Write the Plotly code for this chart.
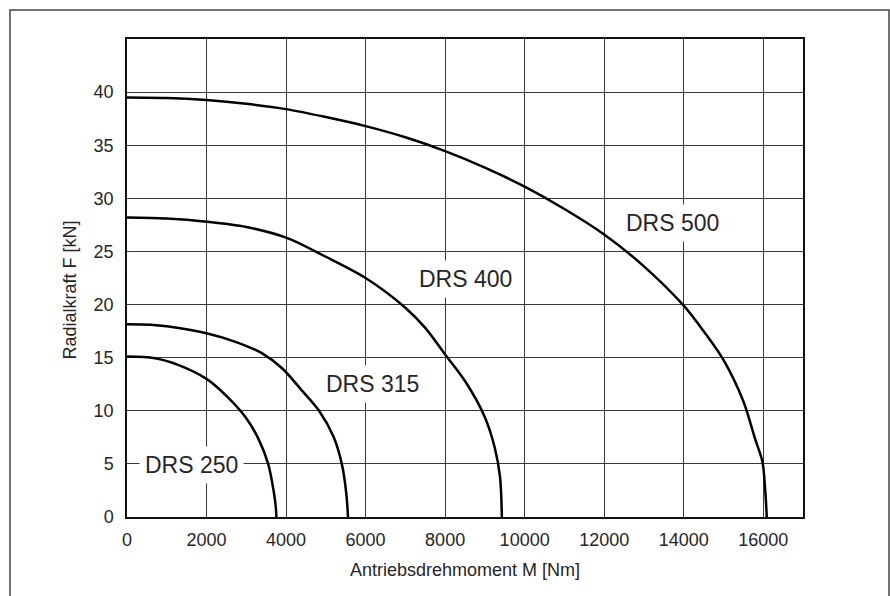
"""Radialkraft vs. Antriebsdrehmoment, DRS 250 ... DRS 500."""
import plotly.graph_objects as go

# Curves: torque M [Nm] / radial force F [kN]
DRS250_M = [0, 700, 1300, 2000, 2500, 3000, 3300, 3550, 3690, 3745, 3756]
DRS250_F = [15.1, 14.95, 14.3, 13.0, 11.4, 9.3, 7.4, 5.0, 2.4, 0.8, 0]

DRS315_M = [0, 600, 1000, 2000, 2800, 3400, 3900, 4400, 4830, 5200, 5410, 5515, 5558]
DRS315_F = [18.15, 18.1, 17.95, 17.3, 16.4, 15.4, 14.0, 11.9, 10.0, 7.5, 4.86, 2.2, 0]

DRS400_M = [0, 1000, 2000, 3000, 4000, 5000, 6000, 7000, 7500, 8000, 8500, 9000,
            9250, 9380, 9427]
DRS400_F = [28.2, 28.1, 27.8, 27.3, 26.3, 24.5, 22.5, 19.7, 17.8, 15.3, 12.8, 9.4,
            6.5, 3.8, 0]

DRS500_M = [0, 1000, 2000, 3000, 4000, 5000, 6000, 7000, 8000, 9000, 10000, 11000,
            12000, 13000, 14000, 14500, 15000, 15500, 15800, 15980, 16050, 16089]
DRS500_F = [39.5, 39.45, 39.25, 38.9, 38.4, 37.65, 36.8, 35.75, 34.45, 32.9, 31.1, 29.0,
            26.6, 23.6, 19.9, 17.5, 14.8, 10.9, 7.3, 5.2, 2.5, 0]

# label name, M, F of the label centre
LABELS = [("DRS 250", 1625, 4.85), ("DRS 315", 6175, 12.5),
          ("DRS 400", 8520, 22.4), ("DRS 500", 13720, 27.65)]

X_TICKS = list(range(0, 16001, 2000))
X_TICK_TEXT = [str(v) for v in X_TICKS]
Y_TICKS = list(range(0, 41, 5))

FONT = "Liberation Sans, Arial, sans-serif"
GRID = "#3a3a3a"
TEXT = "#262626"

fig = go.Figure()
for m, f in [(DRS250_M, DRS250_F), (DRS315_M, DRS315_F),
             (DRS400_M, DRS400_F), (DRS500_M, DRS500_F)]:
    fig.add_scatter(x=m, y=f, mode="lines", showlegend=False,
                    line=dict(color="#000000", width=2.5, shape="spline", smoothing=0.9))

for text, m, f in LABELS:
    fig.add_annotation(x=m, y=f, text=text, showarrow=False, bgcolor="white",
                       borderpad=5, font=dict(size=23, color=TEXT, family=FONT))

# y axis title sits a bit below the plot centre in the original
fig.add_annotation(x=-0.085, y=0.475, xref="paper", yref="paper", text="Radialkraft F [kN]",
                   textangle=-90, showarrow=False, xanchor="center", yanchor="middle",
                   font=dict(size=18, color=TEXT, family=FONT))

# outer frame of the figure
fig.add_shape(type="rect", xref="paper", yref="paper",
              x0=-0.1731, x1=1.1272, y0=-0.2, y1=1.0607,
              line=dict(color="#444444", width=1.5))

fig.update_xaxes(
    range=[0, 17000], tickvals=X_TICKS, ticktext=X_TICK_TEXT,
    showgrid=True, gridcolor=GRID, gridwidth=1,
    zeroline=False, showline=True, linecolor="#111111", linewidth=1.5, mirror=True,
    ticks="outside", ticklen=6, tickcolor="rgba(0,0,0,0)",
    tickfont=dict(size=18, color=TEXT, family=FONT),
    title=dict(text="Antriebsdrehmoment M [Nm]", standoff=14,
               font=dict(size=18, color=TEXT, family=FONT)),
)
fig.update_yaxes(
    range=[0, 45], tickvals=Y_TICKS, showgrid=True, gridcolor=GRID, gridwidth=1,
    zeroline=False, showline=True, linecolor="#111111", linewidth=1.5, mirror=True,
    ticks="outside", ticklen=8, tickcolor="rgba(0,0,0,0)",
    tickfont=dict(size=18, color=TEXT, family=FONT),
)
fig.update_layout(
    width=890, height=596,
    margin=dict(l=127, r=87, t=39, b=79),
    paper_bgcolor="white", plot_bgcolor="white",
    font=dict(family=FONT),
)

# drop the browser's default 8px body margin so the figure sits at the page origin
fig.write_html("out.html", config={"displayModeBar": False},
               post_script="document.body.style.margin = '0';")
